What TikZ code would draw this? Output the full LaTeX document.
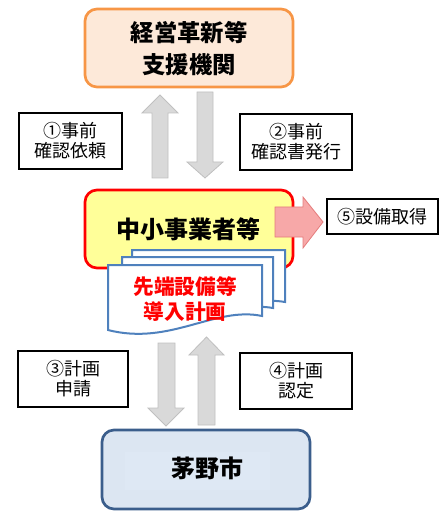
\documentclass[tikz,border=0pt]{standalone}
\usepackage{fontspec}
\setmainfont{Noto Sans CJK JP}
\begin{document}
\begin{tikzpicture}[x=0.75pt,y=-0.75pt,
  bigbox/.style={rounded corners=9pt,line width=2pt},
  lbl/.style={draw=black,line width=0.8pt,fill=white,inner sep=0pt,align=center,font=\fontsize{13.5}{15}\selectfont},
  garrow/.style={fill=arrowgray,draw=arrowedge,line width=0.6pt},
  doc/.style={draw=docblue,fill=white,line width=1.5pt}]
\definecolor{orangeb}{HTML}{F79646}
\definecolor{peach}{HTML}{FDE9D9}
\definecolor{yellowf}{HTML}{FFFF99}
\definecolor{blueb}{HTML}{3B5E8C}
\definecolor{bluef}{HTML}{DCE6F2}
\definecolor{bluein}{HTML}{DEE8F4}
\definecolor{arrowgray}{HTML}{D9D9D9}
\definecolor{arrowedge}{HTML}{C0C0C0}
\definecolor{docblue}{HTML}{4F81BD}
\definecolor{pinkf}{HTML}{F7A8A8}
\definecolor{pinkb}{HTML}{E57C7C}
\useasboundingbox (0,0) rectangle (445,516);

% top box
\draw[bigbox,draw=orangeb,fill=peach] (85,9) rectangle (293,87);
\node[font=\bfseries\fontsize{17.5}{24}\selectfont,align=center] (top) at (189,49) {経営革新等\\支援機関};

% arrows top
\draw[garrow] (152,178) -- (152,113) -- (142,113) -- (160,95) -- (178,113) -- (168,113) -- (168,178) -- cycle;
\draw[garrow] (197,92) -- (213,92) -- (213,162) -- (223,162) -- (205,178) -- (187,162) -- (197,162) -- cycle;

\node[lbl,minimum width=103*0.75pt,minimum height=56*0.75pt] (l1) at (70.5,141) {①事前\\確認依頼};
\node[lbl,minimum width=112*0.75pt,minimum height=56*0.75pt] (l2) at (296,142) {②事前\\確認書発行};

% middle box
\draw[bigbox,draw=red,fill=yellowf] (85,190) rectangle (293,268);
\node[font=\bfseries\fontsize{18}{22}\selectfont] (mid) at (188,229) {中小事業者等};

% red arrow
\draw[fill=pinkf,draw=pinkb,line width=0.6pt] (275,207) -- (303,207) -- (303,197) -- (323,222) -- (303,248) -- (303,237) -- (275,237) -- cycle;
\node[lbl,minimum width=111*0.75pt,minimum height=35*0.75pt] (l5) at (382.5,216.5) {⑤設備取得};

% documents
\draw[doc] (132,250) -- (285,250) -- (285,302) .. controls (240,294) and (200,331) .. (132,316) -- cycle;
\draw[doc] (122,257) -- (273,257) -- (273,308) .. controls (228,300) and (188,337) .. (122,322) -- cycle;
\draw[doc] (108,265) -- (262,265) -- (262,316) .. controls (215,306) and (170,346) .. (108,330) -- cycle;
\node[font=\bfseries\fontsize{15.5}{19}\selectfont,text=red,align=center] (plan) at (185,299) {先端設備等\\導入計画};

% arrows bottom
\draw[garrow] (158,343) -- (175,343) -- (175,408) -- (184,408) -- (166,426) -- (148,408) -- (158,408) -- cycle;
\draw[garrow] (198,425) -- (198,355) -- (189,355) -- (206.5,337) -- (224,355) -- (215,355) -- (215,425) -- cycle;

\node[lbl,minimum width=110*0.75pt,minimum height=56*0.75pt] (l3) at (73,379) {③計画\\申請};
\node[lbl,minimum width=112*0.75pt,minimum height=56*0.75pt] (l4) at (296,381) {④計画\\認定};

% bottom box
\draw[bigbox,draw=blueb,fill=bluef] (102,430) rectangle (310,509);
\fill[bluein] (125,452) rectangle (270,490);
\node[font=\bfseries\fontsize{18}{22}\selectfont] (city) at (207,468) {茅野市};
\end{tikzpicture}
\end{document}
